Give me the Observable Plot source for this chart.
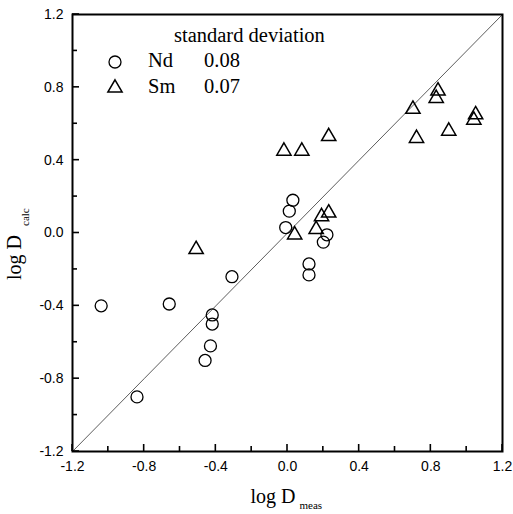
<!DOCTYPE html>
<html><head><meta charset="utf-8">
<script src="https://cdn.jsdelivr.net/npm/d3@7"></script>
<script src="https://cdn.jsdelivr.net/npm/@observablehq/plot@0.6"></script>
<style>body{margin:0;background:#fff}</style>
</head><body><div id="chart"></div>
<script>
// Nd (circles)
const ndMeas = [-1.04, -0.84, -0.66, -0.46, -0.43, -0.42, -0.42, -0.31, -0.01, 0.01, 0.03, 0.12, 0.12, 0.20, 0.22];
const ndCalc = [-0.40, -0.90, -0.39, -0.70, -0.62, -0.50, -0.45, -0.24, 0.03, 0.12, 0.18, -0.17, -0.23, -0.05, -0.01];
// Sm (triangles)
const smMeas = [-0.51, -0.02, 0.08, 0.23, 0.04, 0.23, 0.19, 0.16, 0.84, 0.83, 0.70, 0.72, 0.90, 1.05, 1.04];
const smCalc = [-0.09, 0.45, 0.45, 0.53, -0.01, 0.11, 0.09, 0.02, 0.78, 0.74, 0.68, 0.52, 0.56, 0.65, 0.62];

const majorTicks = [-1.2, -0.8, -0.4, 0.0, 0.4, 0.8, 1.2];
const minorTicks = [-1.0, -0.6, -0.2, 0.2, 0.6, 1.0];
const legendTitle = "standard deviation";
const legendNames = ["Nd", "Sm"];
const legendValues = ["0.08", "0.07"];
const xLabel = ["log D", "meas"];
const yLabel = ["log D", "calc"];

const nd = ndMeas.map((m, i) => ({meas: m, calc: ndCalc[i]}));
const sm = smMeas.map((m, i) => ({meas: m, calc: smCalc[i]}));

const W = 513, H = 514, ML = 72, MR = 11, MT = 14, MB = 63;
const domain = [majorTicks[0], majorTicks[majorTicks.length - 1]];

const svg = Plot.plot({
  width: W, height: H,
  marginLeft: ML, marginRight: MR, marginTop: MT, marginBottom: MB,
  style: {fontFamily: "'Liberation Sans', Arial, sans-serif", fontSize: "14px", color: "black", background: "white"},
  x: {domain},
  y: {domain},
  marks: [
    Plot.line(majorTicks, {x: d => d, y: d => d, stroke: "#333", strokeWidth: 0.8}),
    Plot.dot(nd, {x: "meas", y: "calc", symbol: "circle", r: 6, fill: "none", stroke: "black", strokeWidth: 1.3}),
    Plot.dot(sm, {x: "meas", y: "calc", symbol: "triangle", r: 5.3, fill: "none", stroke: "black", strokeWidth: 1.5}),
    Plot.axisX(majorTicks, {tickSize: 0, tickPadding: 10, tickFormat: d => d.toFixed(1), label: null}),
    Plot.axisY(majorTicks, {tickSize: 0, tickPadding: 9, tickFormat: d => d.toFixed(1), label: null}),
    Plot.frame({stroke: "black", strokeWidth: 2})
  ]
});

const s = d3.select(svg);
const sx = svg.scale("x"), sy = svg.scale("y");
const x0 = sx.apply(domain[0]), y0 = sy.apply(domain[0]);
const tg = s.append("g").attr("stroke", "black").attr("stroke-width", 1.6).attr("fill", "none");
[[majorTicks, 7], [minorTicks, 5]].forEach(([ticks, len]) => {
  ticks.forEach(v => {
    const px = sx.apply(v), py = sy.apply(v);
    tg.append("line").attr("x1", px).attr("x2", px).attr("y1", y0).attr("y2", y0 - len);
    tg.append("line").attr("y1", py).attr("y2", py).attr("x1", x0).attr("x2", x0 + len);
  });
});

const serif = "'Liberation Serif', 'Times New Roman', serif";
// axis labels with subscripts
const xl = s.append("text").attr("text-anchor", "start").attr("x", 250.5).attr("y", 503).attr("font-family", serif).attr("font-size", 20).attr("fill", "black");
xl.append("tspan").text(xLabel[0]);
xl.append("tspan").attr("dx", 4).attr("dy", 6).attr("font-size", 11).text(xLabel[1]);
const yl = s.append("text").attr("text-anchor", "start").attr("transform", "translate(21,280) rotate(-90)").attr("font-family", serif).attr("font-size", 20).attr("fill", "black");
yl.append("tspan").text(yLabel[0]);
yl.append("tspan").attr("dx", 9).attr("dy", 8).attr("font-size", 11).text(yLabel[1]);
// legend
const lg = s.append("g").attr("text-anchor", "start").attr("font-family", serif).attr("font-size", 20.5).attr("fill", "black");
lg.append("text").attr("x", 174).attr("y", 42).text(legendTitle);
const syms = [d3.symbolCircle, d3.symbolTriangle];
const sizes = [Math.PI * 36, Math.PI * 5.3 * 5.3];
legendNames.forEach((n, i) => {
  const cy = 62 + i * 26;
  lg.append("path").attr("transform", `translate(115,${cy})`).attr("d", d3.symbol(syms[i], sizes[i])()).attr("fill", "none").attr("stroke", "black").attr("stroke-width", i ? 1.5 : 1.3);
  lg.append("text").attr("x", 148).attr("y", 67 + i * 26).text(n);
  lg.append("text").attr("x", 204).attr("y", 67 + i * 26).text(legendValues[i]);
});
document.getElementById("chart").appendChild(svg);
</script>
</body></html>
